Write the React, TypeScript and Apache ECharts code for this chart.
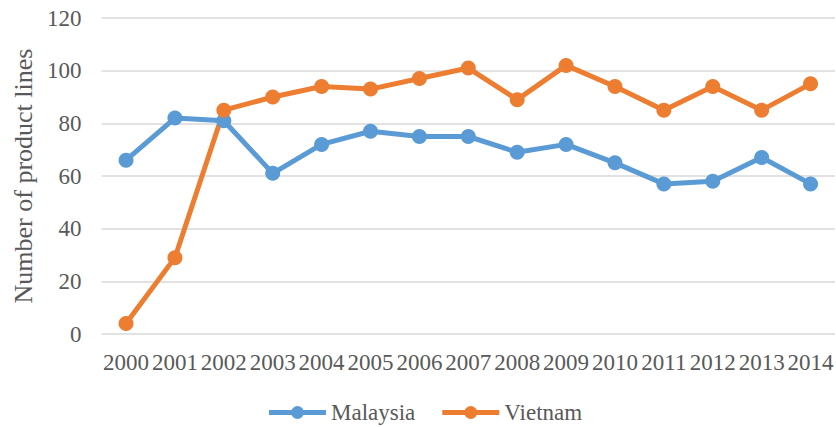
import React, { useEffect, useRef } from "react";
import * as echarts from "echarts";

const years = ["2000","2001","2002","2003","2004","2005","2006","2007","2008","2009","2010","2011","2012","2013","2014"];
const malaysia = [66, 82, 81, 61, 72, 77, 75, 75, 69, 72, 65, 57, 58, 67, 57];
const vietnam = [4, 29, 85, 90, 94, 93, 97, 101, 89, 102, 94, 85, 94, 85, 95];
const yTicks = { min: 0, max: 120, interval: 20 };

const FONT = "Liberation Serif";
const TEXT = "#595959";
const LEGEND_ICON =
  "path://M0,4 H57 V9 H0 Z M22,6.5 a6.5,6.5 0 1,1 13,0 a6.5,6.5 0 1,1 -13,0 Z";

export default function App() {
  const ref = useRef<HTMLDivElement>(null);
  useEffect(() => {
    if (!ref.current) return;
    const chart = echarts.init(ref.current, null, { renderer: "svg" });
    chart.setOption({
      animation: false,
      textStyle: { fontFamily: FONT },
      grid: { left: 101.6, right: 1, top: 18, bottom: 93, outerBoundsMode: "none" },
      legend: {
        left: 264,
        top: 396,
        itemWidth: 57,
        itemHeight: 13,
        itemGap: 27,
        icon: LEGEND_ICON,
        textStyle: { fontFamily: FONT, fontSize: 23, color: TEXT },
        data: ["Malaysia", "Vietnam"],
      },
      xAxis: {
        type: "category",
        data: years,
        boundaryGap: true,
        axisLine: { show: false },
        axisTick: { show: false },
        axisLabel: { interval: 0, fontFamily: FONT, fontSize: 23, color: TEXT, margin: 17 },
      },
      yAxis: {
        type: "value",
        min: yTicks.min,
        max: yTicks.max,
        interval: yTicks.interval,
        name: "Number of product lines",
        nameLocation: "middle",
        nameGap: 64,
        nameTextStyle: { fontFamily: FONT, fontSize: 26, color: TEXT },
        axisLine: { show: false },
        axisTick: { show: false },
        axisLabel: { fontFamily: FONT, fontSize: 23, color: TEXT, margin: 20 },
        splitLine: { lineStyle: { color: "#D9D9D9", width: 1.5 } },
      },
      series: [
        {
          name: "Malaysia",
          type: "line",
          data: malaysia,
          symbol: "circle",
          symbolSize: 15,
          lineStyle: { color: "#5B9BD5", width: 5 },
          itemStyle: { color: "#5B9BD5" },
        },
        {
          name: "Vietnam",
          type: "line",
          data: vietnam,
          symbol: "circle",
          symbolSize: 15,
          lineStyle: { color: "#ED7D31", width: 5 },
          itemStyle: { color: "#ED7D31" },
        },
      ],
    });
    return () => chart.dispose();
  }, []);
  return <div ref={ref} style={{ width: 836, height: 427, position: "absolute", left: 0, top: 0 }} />;
}
